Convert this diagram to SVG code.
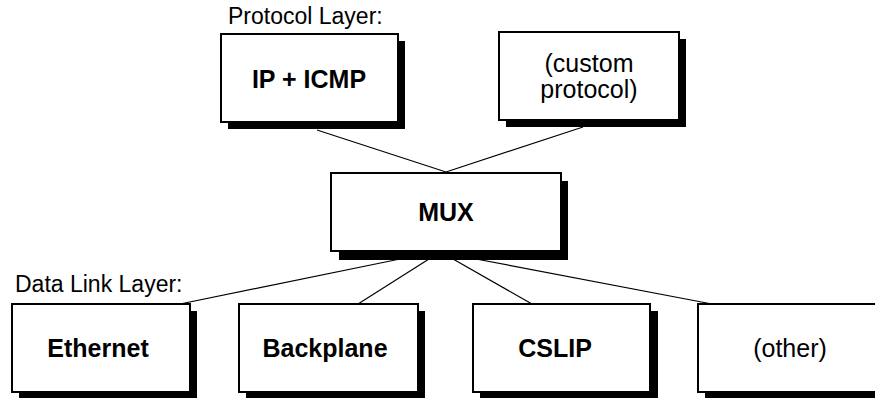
<svg xmlns="http://www.w3.org/2000/svg" width="875" height="398" viewBox="0 0 875 398">
<style>
.box{fill:#fff;stroke:#000;stroke-width:2}
.sh{fill:#000}
.lbl{font-family:"Liberation Sans",Arial,sans-serif;font-size:23px;fill:#000}
.b{font-family:"Liberation Sans",Arial,sans-serif;font-size:25px;font-weight:bold;fill:#000;text-anchor:middle}
.r{font-family:"Liberation Sans",Arial,sans-serif;font-size:25px;fill:#000;text-anchor:middle}
.ln{stroke:#000;stroke-width:1.2;fill:none}
</style>
<rect width="875" height="398" fill="#fff"/>
<g id="connectors">
<line class="ln" x1="317" y1="130" x2="446" y2="172"/>
<line class="ln" x1="583" y1="127" x2="446" y2="172"/>
<line class="ln" x1="400" y1="259" x2="180" y2="304"/>
<line class="ln" x1="429" y1="259" x2="358" y2="304"/>
<line class="ln" x1="453" y1="259" x2="532" y2="304"/>
<line class="ln" x1="476" y1="259" x2="712" y2="304"/>
</g>
<text class="lbl" x="228" y="24">Protocol Layer:</text>
<text class="lbl" x="15" y="292">Data Link Layer:</text>
<g id="ip">
<rect class="sh" x="228" y="41" width="177" height="88"/>
<rect class="box" x="221" y="34" width="177" height="88"/>
<text class="b" x="309" y="88">IP + ICMP</text>
</g>
<g id="custom">
<rect class="sh" x="506" y="39" width="180" height="88"/>
<rect class="box" x="499" y="32" width="180" height="88"/>
<text class="r" x="589" y="72">(custom</text>
<text class="r" x="589" y="98">protocol)</text>
</g>
<g id="mux">
<rect class="sh" x="339" y="181" width="229" height="79"/>
<rect class="box" x="331" y="173" width="230" height="78"/>
<text class="b" x="446" y="221">MUX</text>
</g>
<g id="ethernet">
<rect class="sh" x="19" y="311" width="178" height="88"/>
<rect class="box" x="12" y="304" width="178" height="88"/>
<text class="b" x="98" y="357">Ethernet</text>
</g>
<g id="backplane">
<rect class="sh" x="246" y="311" width="179" height="88"/>
<rect class="box" x="239" y="304" width="179" height="88"/>
<text class="b" x="325" y="357">Backplane</text>
</g>
<g id="cslip">
<rect class="sh" x="480" y="311" width="178" height="88"/>
<rect class="box" x="473" y="304" width="177" height="88"/>
<text class="b" x="555" y="357">CSLIP</text>
</g>
<g id="other">
<rect class="sh" x="705" y="311" width="180" height="88"/>
<rect class="box" x="698" y="304" width="180" height="88"/>
<text class="r" x="790" y="357">(other)</text>
</g>
</svg>
